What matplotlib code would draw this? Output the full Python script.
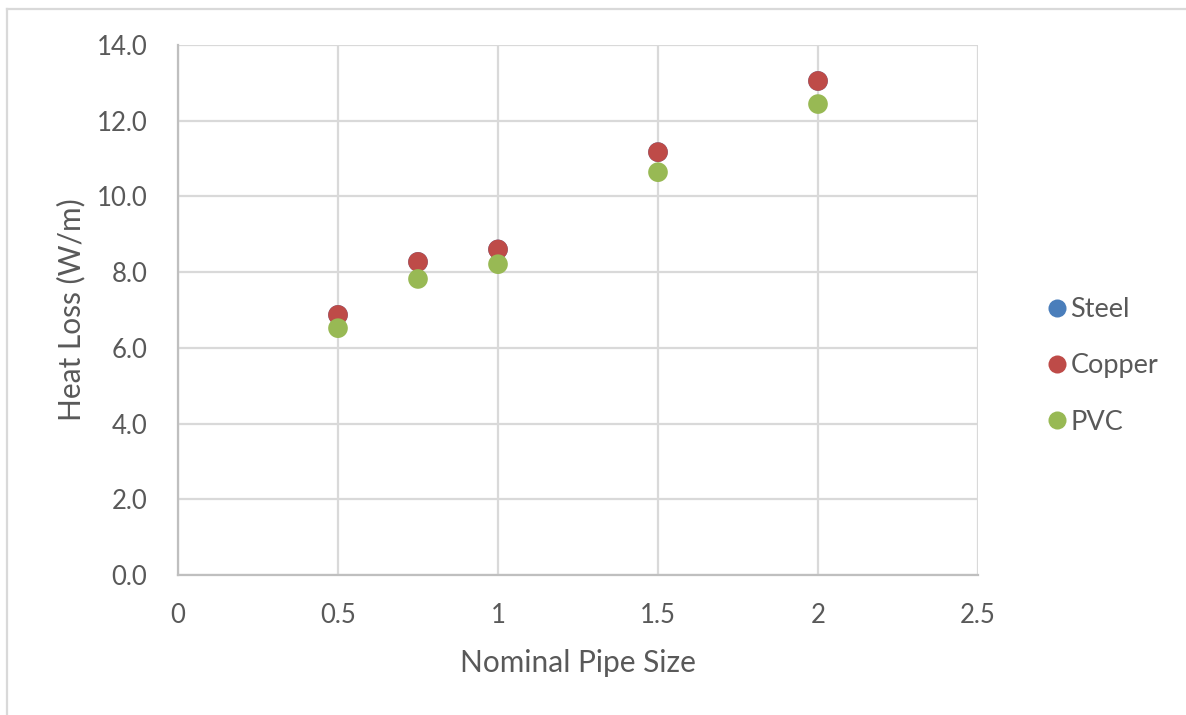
import matplotlib
matplotlib.use("Agg")
import matplotlib.pyplot as plt
from matplotlib.lines import Line2D

plt.rcParams['font.family'] = ['Lato', 'DejaVu Sans']

# Nominal pipe sizes (inches) and heat loss per metre for each material
pipe_size = [0.5, 0.75, 1, 1.5, 2]
steel = [6.87, 8.27, 8.60, 11.17, 13.05]
copper = [6.87, 8.27, 8.60, 11.17, 13.05]
pvc = [6.52, 7.82, 8.21, 10.64, 12.44]

series_names = ["Steel", "Copper", "PVC"]
series_colors = ["#4A7EBB", "#BE4B48", "#98B954"]

x_ticks = [0, 0.5, 1, 1.5, 2, 2.5]
x_tick_labels = ["0", "0.5", "1", "1.5", "2", "2.5"]
y_ticks = [0, 2, 4, 6, 8, 10, 12, 14]

text_color = "#595959"
grid_color = "#D9D9D9"

fig = plt.figure(figsize=(11.86, 7.15), dpi=100)
ax = fig.add_axes([178 / 1186, 1 - 575 / 715, 800 / 1186, 530 / 715])

for vals, color, name in zip([steel, copper, pvc], series_colors, series_names):
    ax.scatter(pipe_size, vals, s=200, color=color, edgecolors="none",
               label=name, zorder=3, clip_on=False)

ax.set_xlim(0, 2.5)
ax.set_ylim(0, 14)
ax.set_xticks(x_ticks)
ax.set_xticklabels(x_tick_labels)
ax.set_yticks(y_ticks)
ax.set_yticklabels([f"{v:.1f}" for v in y_ticks])

ax.grid(True, color=grid_color, linewidth=1.6, zorder=0)
ax.set_axisbelow(True)
for side in ["top", "right"]:
    ax.spines[side].set_visible(False)
for side in ["left", "bottom"]:
    ax.spines[side].set_color("#BFBFBF")
    ax.spines[side].set_linewidth(1.6)

ax.tick_params(axis="both", length=0, labelsize=18.5, labelcolor=text_color)
ax.tick_params(axis="y", pad=22)
ax.tick_params(axis="x", pad=20)

ax.set_xlabel("Nominal Pipe Size", fontsize=21.5, color=text_color, labelpad=15)
ax.set_ylabel("Heat Loss (W/m)", fontsize=21.5, color=text_color, labelpad=8)

handles = [Line2D([], [], marker="o", linestyle="none", markersize=13,
                  markerfacecolor=c, markeredgecolor="none") for c in series_colors]
fig.legend(handles, series_names, loc="center left",
           bbox_to_anchor=(1046 / 1186, 1 - 366 / 715), frameon=False,
           fontsize=19.5, labelcolor=text_color, handlelength=0.8,
           handletextpad=0.1, labelspacing=1.15, borderpad=0, borderaxespad=0)

# Outer chart frame (left and top edges)
fig.add_artist(Line2D([7 / 1186, 7 / 1186], [0, 1 - 9 / 715],
                      transform=fig.transFigure, color="#D9D9D9", linewidth=1.6))
fig.add_artist(Line2D([7 / 1186, 1], [1 - 9 / 715, 1 - 9 / 715],
                      transform=fig.transFigure, color="#D9D9D9", linewidth=1.6))

fig.savefig("out.png", dpi=100, facecolor="white")
